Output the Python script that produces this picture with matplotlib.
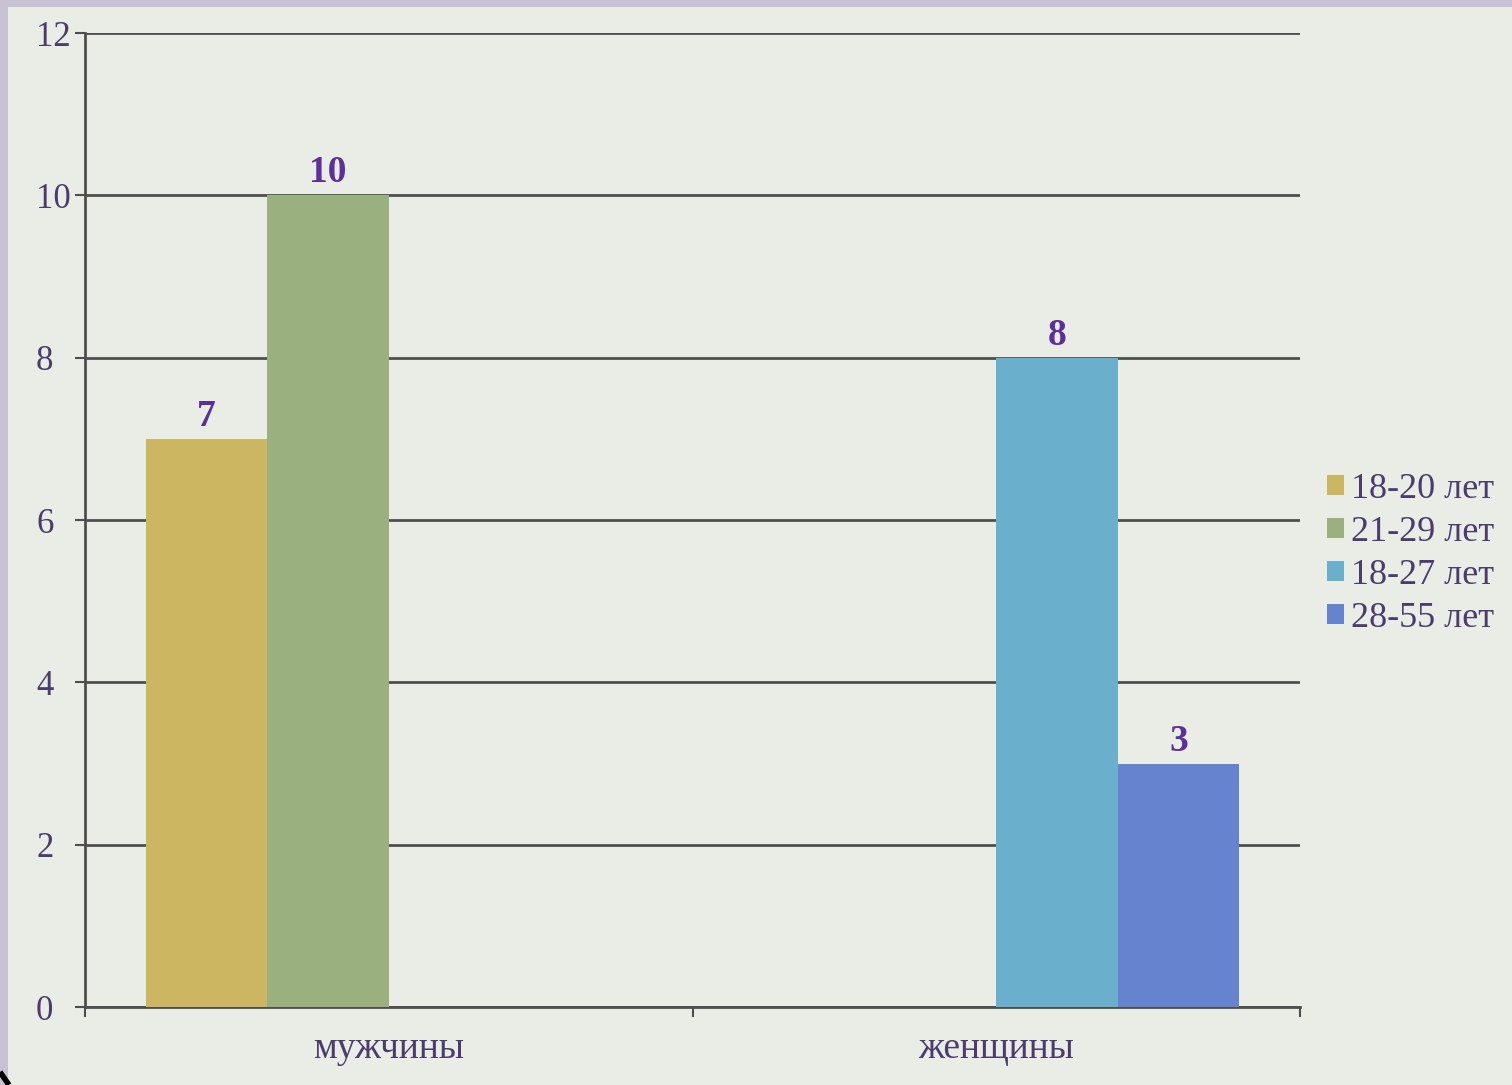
import matplotlib
matplotlib.use("Agg")
import matplotlib.pyplot as plt
from matplotlib.patches import Rectangle
from matplotlib.lines import Line2D
import numpy as np

categories = ["мужчины", "женщины"]
series_names = ["18-20 лет", "21-29 лет", "18-27 лет", "28-55 лет"]
series_values = [
    [7, 0],
    [10, 0],
    [0, 8],
    [0, 3],
]
series_colors = ["#cdb662", "#9bb07f", "#6aafcb", "#6683cf"]
y_ticks = [0, 2, 4, 6, 8, 10, 12]

bg = "#eaece6"
border = "#c9c1d4"
grid_col = "#4e4e4e"
tick_text = "#4a3c6c"
value_text = "#5c309a"

W, H = 1512, 1085
plt.rcParams["font.family"] = ["Liberation Serif", "DejaVu Serif"]

fig = plt.figure(figsize=(W / 100, H / 100), dpi=100)
fig.patch.set_facecolor(border)
# light canvas inset from the lavender frame on the top and left
fig.add_artist(Rectangle((8 / W, 0), 1, 1 - 7 / H, transform=fig.transFigure,
                         facecolor=bg, edgecolor="none", zorder=0))
# small dark stroke in the lower-left corner
fig.add_artist(Line2D([0 / W, 9 / W], [1 - 1072 / H, 1 - 1085 / H], transform=fig.transFigure,
                      color="black", linewidth=4, solid_capstyle="butt", zorder=1))

ax = fig.add_axes([85 / W, 1 - 1007 / H, (1300 - 85) / W, (1007 - 33) / H])
ax.set_facecolor("none")

x = np.arange(len(categories))
width = 0.2
n = len(series_names)
for i, (name, vals, col) in enumerate(zip(series_names, series_values, series_colors)):
    offs = (i - (n - 1) / 2) * width
    ax.bar(x + offs, vals, width=width, color=col, label=name, zorder=3)
    for xi, v in zip(x + offs, vals):
        if v > 0:
            ax.text(xi, v + 0.06, str(v), ha="center", va="bottom", fontsize=27,
                    fontweight="bold", color=value_text, zorder=4)

ax.set_xlim(-0.5, 1.5)
ax.set_ylim(0, 12)
ax.set_yticks(y_ticks)
ax.set_yticklabels([str(t) for t in y_ticks], fontsize=25, color=tick_text, ha="left")
ax.yaxis.grid(True, color=grid_col, linewidth=2, zorder=1)
ax.set_xticks([-0.5, 0.5, 1.5], minor=False)
ax.set_xticklabels([])
ax.set_xticks(x, minor=True)
ax.set_xticklabels(categories, minor=True, fontsize=27, color=tick_text)
ax.tick_params(axis="x", which="major", length=7.2, width=1.5, color=grid_col, direction="out")
ax.tick_params(axis="x", which="minor", length=0, pad=18)
ax.tick_params(axis="y", length=7.2, width=1.5, color=grid_col, direction="out", pad=28)

for s in ["top", "right"]:
    ax.spines[s].set_visible(False)
for s in ["left", "bottom"]:
    ax.spines[s].set_color(grid_col)
    ax.spines[s].set_linewidth(2)

fig.legend(loc="center left", bbox_to_anchor=(1327 / W, 1 - 554 / H),
           frameon=False, fontsize=26, handlelength=0.47, handleheight=0.47,
           handletextpad=0.2, labelspacing=0.28, borderpad=0, borderaxespad=0,
           labelcolor=tick_text)

fig.savefig("out.png", dpi=100, facecolor=fig.get_facecolor())
